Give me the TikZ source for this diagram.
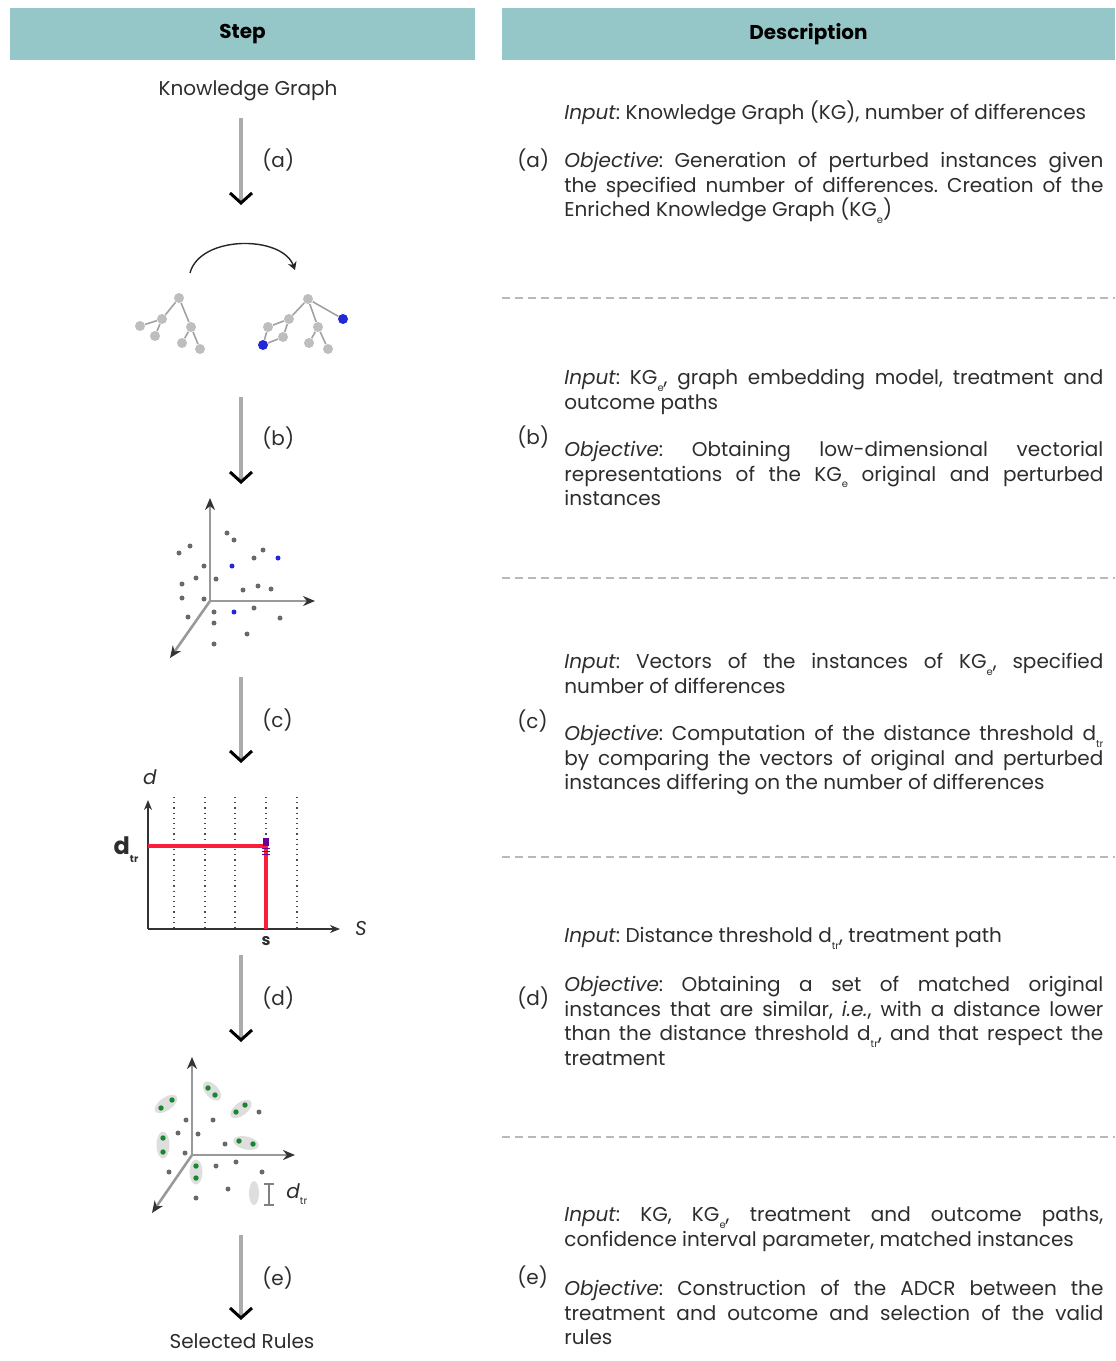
\documentclass[tikz,border=0pt]{standalone}
\usepackage{fontspec}
\setmainfont{Poppins}
\usepackage{tikz}
\usetikzlibrary{arrows.meta,positioning,calc,shapes.geometric}
\definecolor{headTeal}{RGB}{150,199,200}
\definecolor{textDark}{RGB}{45,45,45}
\definecolor{nodeGray}{RGB}{190,190,190}
\definecolor{nodeBlue}{RGB}{35,40,215}
\definecolor{dotGray}{RGB}{105,105,105}
\definecolor{dotGreen}{RGB}{25,135,45}
\definecolor{pairGray}{RGB}{222,222,222}
\definecolor{lineRed}{RGB}{250,30,60}
\newcommand{\lowsub}[1]{\raisebox{-0.6ex}{\tiny #1}}
\frenchspacing

\begin{document}
\begin{tikzpicture}[
    x=0.5pt, y=-0.5pt,
    every node/.style={font=\fontsize{10}{12.25}\selectfont, text=textDark},
    header/.style={rectangle, fill=headTeal, minimum height=26pt, inner sep=0pt,
        font=\fontsize{10}{12}\selectfont\bfseries, text=black},
    desc/.style={anchor=north west, inner sep=0pt, text width=269.5pt, align=justify,
        execute at begin node=\strut},
    letter/.style={anchor=west, inner sep=0pt},
    steparrow/.style={draw=gray!65, line width=1.6pt,
        -{Straight Barb[color=black, length=5pt, width=11pt, line width=1.5pt]}},
    sep/.style={draw=gray!55, line width=0.8pt, dash pattern=on 4pt off 2.5pt},
    kgnode/.style={circle, fill=nodeGray, inner sep=0pt, minimum size=5pt},
    kgblue/.style={kgnode, fill=nodeBlue},
    kgedge/.style={draw=nodeGray!85!black, line width=0.8pt},
    axis/.style={draw=gray!80, line width=1.3pt, -{Stealth[color=black!80, length=6pt, width=5pt]}},
    plotaxis/.style={draw=black!80, line width=0.6pt, -{Stealth[length=5pt, width=4pt]}},
    dot/.style={circle, fill=dotGray, inner sep=0pt, minimum size=2.5pt},
    ]
    \useasboundingbox (0,0) rectangle (1115,1361);
    % Headers
    \node[header, minimum width=232.5pt] (hStep) at (242.5,34) {Step};
    \node[header, minimum width=306.5pt] (hDesc) at (808.5,34) {Description};

    % Step column
    \node (kg) at (248,91) {Knowledge Graph};
    \coordinate (a1) at (241,118);  \coordinate (a2) at (241,205);
    \draw[steparrow] (a1) -- (a2);
    \node[letter] (la) at (262,160) {(a)};

    % Original and perturbed graphs
    \coordinate (bend1) at (190,273); \coordinate (bend2) at (295,270);
    \draw[black!85, line width=0.7pt, -{Stealth[length=4pt, width=4.5pt]}]
      (bend1) .. controls (200,235) and (282,235) .. (bend2);
    \node[kgnode] (l0) at (179,298) {};
    \node[kgnode] (l1) at (162,319) {};
    \node[kgnode] (l2) at (140,326) {};
    \node[kgnode] (l3) at (155,336) {};
    \node[kgnode] (l4) at (191,327) {};
    \node[kgnode] (l5) at (182,343) {};
    \node[kgnode] (l6) at (200,349) {};
    \draw[kgedge] (l0) -- (l1) (l1) -- (l2) (l1) -- (l3)
      (l0) -- (l4) (l4) -- (l5) (l4) -- (l6);
    \node[kgnode] (r0) at (308,299) {};
    \node[kgnode] (r1) at (289,319) {};
    \node[kgnode] (r2) at (268,327) {};
    \node[kgblue] (r3) at (263,345) {};
    \node[kgnode] (r4) at (283,337) {};
    \node[kgblue] (r5) at (343,319) {};
    \node[kgnode] (r6) at (318,327) {};
    \node[kgnode] (r7) at (309,343) {};
    \node[kgnode] (r8) at (328,349) {};
    \draw[kgedge] (r0) -- (r1) (r1) -- (r2) (r1) -- (r4) (r2) -- (r3) (r3) -- (r4)
      (r0) -- (r5) (r0) -- (r6) (r6) -- (r7) (r6) -- (r8);

    \coordinate (b1) at (241,397);  \coordinate (b2) at (241,484);
    \draw[steparrow] (b1) -- (b2);
    \node[letter] (lb) at (262,438) {(b)};

    % Embedding space
    \coordinate (o1) at (210,601);
    \coordinate (o1y) at (210,498); \coordinate (o1x) at (315,601); \coordinate (o1z) at (170,658);
    \draw[axis] (o1) -- (o1y);
    \draw[axis] (o1) -- (o1x);
    \draw[axis] (o1) -- (o1z);
    \foreach \p in {(227,533),(234,540),(190,546),(179,553),(263,550),(254,558),
        (204,566),(196,578),(216,579),(182,584),(258,586),(243,590),(271,589),
        (182,598),(204,599),(214,612),(254,608),(188,617),(214,623),(280,618),
        (247,634),(214,644)}
      \node[dot] at \p {};
    \foreach \p in {(232,566),(278,558),(234,612)}
      \node[dot, fill=nodeBlue] at \p {};

    \coordinate (c1) at (241,677);  \coordinate (c2) at (241,763);
    \draw[steparrow] (c1) -- (c2);
    \node[letter] (lc) at (262,720) {(c)};

    % Distance threshold plot
    \coordinate (p0) at (148,929);
    \coordinate (py) at (148,800); \coordinate (px) at (340,929);
    \foreach \x in {174,205,235,266,297}
      \draw[black!70, line width=0.6pt, dotted] (\x,797) -- (\x,929);
    \draw[plotaxis] (p0) -- (py);
    \draw[plotaxis] (p0) -- (px);
    \coordinate (dtr) at (148,846); \coordinate (spt) at (266,846); \coordinate (sx) at (266,929);
    \draw[lineRed, line width=1.6pt] (dtr) -- (spt) -- (sx);
    \fill[violet!80!blue] (263,838) rectangle (269,846);
    \foreach \y in {848,851,854}
      \draw[violet!80!blue, line width=0.5pt] (262,\y) -- (270,\y);
    \node (dlab) at (150,777) {\textit{d}};
    \node (slab) at (361,928) {\textit{S}};
    \node (dtrlab) at (126,850) {\fontsize{12}{12}\selectfont\textbf{d}\lowsub{\textbf{tr}}};
    \node (sval) at (266,941) {\fontsize{8}{8}\selectfont\textbf{s}};

    \coordinate (d1) at (241,955);  \coordinate (d2) at (241,1042);
    \draw[steparrow] (d1) -- (d2);
    \node[letter] (ld) at (262,998) {(d)};

    % Matched instances
    \foreach \c/\a/\l in {{(166,1104)}/35/26, {(212,1091)}/-48/23, {(241,1109)}/38/25,
        {(163,1145)}/90/27, {(246,1143)}/-13/26, {(196,1172)}/90/25}
      \node[ellipse, fill=pairGray, inner sep=0pt, minimum width=\l*0.5pt,
        minimum height=6.5pt, rotate=\a] at \c {};
    \coordinate (o2) at (192,1155);
    \coordinate (o2y) at (192,1057); \coordinate (o2x) at (295,1155); \coordinate (o2z) at (152,1213);
    \draw[axis] (o2) -- (o2y);
    \draw[axis] (o2) -- (o2x);
    \draw[axis] (o2) -- (o2z);
    \foreach \p in {(186,1120),(178,1133),(198,1134),(213,1120),(259,1112),(225,1144),
        (185,1153),(169,1172),(216,1166),(236,1162),(262,1172),(228,1189),(196,1198)}
      \node[dot] at \p {};
    \foreach \p in {(161,1108),(172,1100),(208,1088),(215,1095),(236,1112),(245,1105),
        (163,1138),(163,1152),(239,1141),(253,1144),(196,1166),(196,1178)}
      \node[dot, fill=dotGreen, minimum size=2.7pt] at \p {};
    \node[ellipse, fill=pairGray, inner sep=0pt, minimum width=5pt, minimum height=12pt]
      (pairkey) at (254,1193) {};
    \coordinate (ib1) at (269,1183); \coordinate (ib2) at (269,1206);
    \draw[gray, line width=0.8pt, {Bar[width=5pt]}-{Bar[width=5pt]}] (ib1) -- (ib2);
    \node[anchor=west, inner sep=0pt] (dtrkey) at (286,1194) {\textit{d}\lowsub{tr}};

    \coordinate (e1) at (241,1235);  \coordinate (e2) at (241,1320);
    \draw[steparrow] (e1) -- (e2);
    \node[letter] (le) at (262,1278) {(e)};
    \node (rules) at (242,1341) {Selected Rules};

    % Description column
    \node[desc] (inA) at (564,100) {\textit{Input}: Knowledge Graph (KG), number of differences};
    \node[letter] (da) at (517,160) {(a)};
    \node[desc] (objA) at (564,150) {\textit{Objective}: Generation of perturbed instances given
      \linebreak the specified number of differences. Creation of the \linebreak
      Enriched Knowledge Graph (KG\lowsub{e})};
    \draw[sep] (502,298) -- (1115,298);

    \node[desc] (inB) at (564,367) {\textit{Input}: KG\lowsub{e}, graph embedding model, treatment and
      \linebreak outcome paths};
    \node[letter] (db) at (517,437) {(b)};
    \node[desc] (objB) at (564,439) {\textit{Objective}: Obtaining low-dimensional vectorial
      \linebreak representations of the KG\lowsub{e} original and perturbed \linebreak instances};
    \draw[sep] (502,578) -- (1115,578);

    \node[desc] (inC) at (564,651) {\textit{Input}: Vectors of the instances of KG\lowsub{e}, specified
      \linebreak number of differences};
    \node[letter] (dc) at (517,721) {(c)};
    \node[desc] (objC) at (564,723) {\textit{Objective}: Computation of the distance threshold d\lowsub{tr}
      \linebreak by comparing the vectors of original and perturbed \linebreak
      instances differing on the number of differences};
    \draw[sep] (502,857) -- (1115,857);

    \node[desc] (inD) at (564,925) {\textit{Input}: Distance threshold d\lowsub{tr}, treatment path};
    \node[letter] (dd) at (517,998) {(d)};
    \node[desc] (objD) at (564,974) {\textit{Objective}: Obtaining a set of matched original
      \linebreak instances that are similar, \textit{i.e.}, with a distance lower \linebreak
      than the distance threshold d\lowsub{tr}, and that respect the \linebreak treatment};
    \draw[sep] (502,1137) -- (1115,1137);

    \node[desc] (inE) at (564,1204) {\textit{Input}: KG, KG\lowsub{e}, treatment and outcome paths,
      \linebreak confidence interval parameter, matched instances};
    \node[letter] (de) at (517,1277) {(e)};
    \node[desc] (objE) at (564,1278) {\textit{Objective}: Construction of the ADCR between the
      \linebreak treatment and outcome and selection of the valid \linebreak rules};
\end{tikzpicture}
\end{document}
